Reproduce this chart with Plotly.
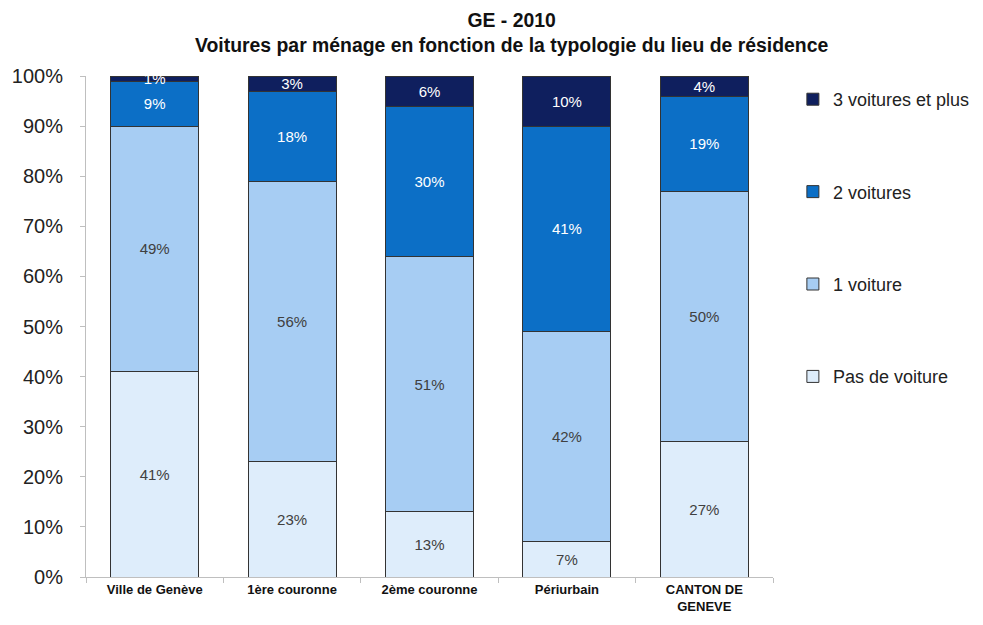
import plotly.graph_objects as go

categories = ["Ville de Genève", "1ère couronne", "2ème couronne", "Périurbain", "CANTON DE<br>GENEVE"]
pas_de_voiture = [41, 23, 13, 7, 27]
une_voiture = [49, 56, 51, 42, 50]
deux_voitures = [9, 18, 30, 41, 19]
trois_voitures = [1, 3, 6, 10, 4]

series = [
    ("Pas de voiture", pas_de_voiture, "#deedfb", "#404040"),
    ("1 voiture", une_voiture, "#a7cdf3", "#404040"),
    ("2 voitures", deux_voitures, "#0c6fc6", "white"),
    ("3 voitures et plus", trois_voitures, "#0f1f5e", "white"),
]

FONT = "Liberation Sans, Arial, sans-serif"
fig = go.Figure()
for i, (name, vals, col, tcol) in enumerate(series):
    fig.add_trace(go.Bar(
        x=categories, y=vals, name=name,
        marker=dict(color=col, line=dict(color="#333333", width=1)),
        text=[f"{v}%" for v in vals], textposition="inside",
        insidetextanchor="middle", constraintext="none",
        textfont=dict(color=tcol, size=15, family=FONT),
        legendgroup=name, legendrank=100 - i,
        hoverinfo="skip",
    ))

fig.add_annotation(
    text="<b>GE - 2010</b><br><b>Voitures par ménage en fonction de la typologie du lieu de résidence</b>",
    xref="paper", yref="paper", x=0.62, y=1, xanchor="center", yanchor="bottom",
    yshift=19, showarrow=False, align="center", borderpad=0,
    font=dict(size=19.4, color="#111111", family=FONT),
)

fig.update_layout(
    barmode="stack", bargap=0.36,
    width=975, height=617,
    paper_bgcolor="white", plot_bgcolor="white",
    margin=dict(l=78, r=210, t=68, b=48, autoexpand=False),
    font=dict(family=FONT, color="#222222"),
    legend=dict(
        xref="container", yref="paper",
        x=0.805, xanchor="left", y=0.99, yanchor="top",
        font=dict(size=18, color="#222222", family=FONT),
        tracegroupgap=66, itemwidth=30,
        bgcolor="rgba(0,0,0,0)",
    ),
)
fig.update_xaxes(
    showline=True, linecolor="#bfbfbf", linewidth=1,
    ticks="outside", tickson="boundaries", ticklen=5, tickcolor="#bfbfbf",
    tickfont=dict(size=13, color="#111111", family=FONT),
    tickvals=categories, ticktext=[f"<b>{c}</b>" for c in categories],
    showgrid=False, automargin=False,
)
fig.update_yaxes(
    range=[0, 100], dtick=10, ticksuffix="%",
    showline=True, linecolor="#bfbfbf", linewidth=1,
    ticks="outside", ticklen=5, tickcolor="#bfbfbf",
    tickfont=dict(size=20, color="#222222", family=FONT),
    ticklabelstandoff=13,
    showgrid=False, zeroline=False, automargin=False,
)
fig.write_html("out.html")
